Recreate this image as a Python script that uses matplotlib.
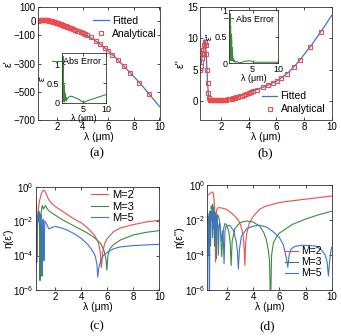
import numpy as np
import matplotlib
matplotlib.use("Agg")
import matplotlib.pyplot as plt
from matplotlib.ticker import FixedLocator, NullLocator, FuncFormatter

plt.rcParams['font.family'] = ['Liberation Sans', 'DejaVu Sans']
plt.rcParams['mathtext.fontset'] = 'custom'
plt.rcParams['mathtext.rm'] = 'Liberation Sans'
plt.rcParams['mathtext.it'] = 'Liberation Sans:italic'

# ---------------- data ----------------
# (a) real permittivity, fitted line
fit_lam = [0.5, 0.7, 0.9, 1.0, 1.2, 1.5, 2.0, 2.5, 3.0, 3.5, 4.0, 4.5, 5.0, 5.5,
           6.0, 6.5, 7.0, 7.5, 8.0, 8.5, 9.0, 9.5, 10.0]
fit_eps_re = [3, 7, 10, 10, 7, 1, -13, -29, -46, -64, -84, -110, -139, -172,
              -210, -252, -298, -345, -393, -442, -495, -550, -605]
# (b) imaginary permittivity, fitted line
fit_lam_b = [0.5, 0.6, 0.7, 0.8, 0.85, 0.9, 0.95, 1.0, 1.05, 1.1, 1.15, 1.2, 1.3,
             1.5, 2.0, 2.5, 3.0, 3.5, 4.0, 4.5, 5.0, 5.5, 6.0, 6.5, 7.0, 7.5,
             8.0, 8.5, 9.0, 9.5, 10.0]
fit_eps_im = [5.0, 6.3, 7.6, 8.9, 9.8, 9.3, 7.5, 5.0, 2.8, 1.2, 0.4, 0.12, 0.05,
              0.03, 0.08, 0.22, 0.48, 0.85, 1.25, 1.7, 2.15, 2.6, 3.1, 3.9, 4.8,
              6.0, 7.4, 8.8, 10.4, 12.0, 13.7]
# analytical samples
ana_lam = [0.5, 0.55, 0.6, 0.65, 0.7, 0.75, 0.8, 0.85, 0.9, 0.95, 1.0, 1.05, 1.1,
           1.15, 1.2, 1.25, 1.3, 1.35, 1.4, 1.45, 1.5, 1.56, 1.62, 1.68, 1.74,
           1.8, 1.87, 1.94, 2.01, 2.08, 2.16, 2.24, 2.32, 2.41, 2.5, 2.59, 2.69,
           2.79, 2.9, 3.01, 3.13, 3.26, 3.39, 3.53, 3.68, 3.84, 4.0, 4.16, 4.31,
           4.62, 5.02, 5.39, 5.73, 6.02, 6.33, 6.78, 7.25, 7.72, 8.43, 9.22]
ana_eps_re = [3, 4, 5, 6, 7, 8, 9, 10, 10, 10, 10, 9, 9, 8, 7, 6, 5, 4, 3, 2, 1,
              0, -2, -3, -5, -7, -9, -11, -13, -15, -18, -20, -23, -26, -29, -32,
              -35, -39, -43, -47, -51, -56, -62, -67, -73, -80, -84, -92, -99,
              -115, -139, -164, -188, -212, -237, -278, -321, -366, -435, -519]
ana_eps_im = [5.0, 5.6, 6.3, 6.9, 7.6, 8.2, 8.9, 9.4, 9.0, 7.5, 5.0, 2.8, 1.2,
              0.4, 0.15, 0.1, 0.08, 0.06, 0.05, 0.05, 0.05, 0.05, 0.05, 0.05,
              0.06, 0.06, 0.07, 0.07, 0.08, 0.1, 0.12, 0.14, 0.17, 0.2, 0.23,
              0.27, 0.31, 0.36, 0.42, 0.48, 0.55, 0.64, 0.74, 0.85, 0.97, 1.1,
              1.25, 1.38, 1.5, 1.8, 2.17, 2.55, 2.9, 3.15, 3.6, 4.35, 5.35, 6.55,
              8.6, 11.1]
# insets: absolute error
err_lam_a = [0.5, 0.55, 0.6, 0.65, 0.7, 0.75, 0.8, 0.85, 0.9, 0.95, 1.0, 1.05,
             1.1, 1.15, 1.2, 1.3, 1.4, 1.5, 1.7, 2.0, 2.5, 3.0, 3.5, 4.0, 4.5,
             5.0, 5.2, 5.5, 6.0, 7.0, 8.0, 9.0, 10.0]
err_a = [0.35, 0.05, 0.3, 0.02, 0.4, 0.1, 1.2, 0.05, 0.5, 0.1, 0.45, 0.02, 0.35,
         0.05, 0.25, 0.05, 0.15, 0.05, 0.1, 0.15, 0.17, 0.15, 0.12, 0.1, 0.06,
         0.02, 0.0, 0.02, 0.05, 0.09, 0.13, 0.17, 0.21]
err_lam_b = [0.5, 0.55, 0.6, 0.65, 0.7, 0.75, 0.8, 0.85, 0.9, 0.95, 1.0, 1.05,
             1.1, 1.15, 1.2, 1.3, 1.4, 1.5, 1.7, 2.0, 2.5, 3.0, 3.5, 4.0, 4.5,
             5.0, 5.5, 6.0, 7.0, 8.0, 9.0, 10.0]
err_b = [0.3, 0.6, 0.1, 0.93, 0.2, 0.7, 0.05, 0.55, 0.1, 0.45, 0.05, 0.3, 0.05,
         0.15, 0.05, 0.08, 0.03, 0.06, 0.02, 0.03, 0.01, 0.02, 0.04, 0.04, 0.05,
         0.03, 0.02, 0.02, 0.02, 0.02, 0.02, 0.02]

# (c) relative error of eps' (log10)
c2_lam = [0.5, 0.55, 0.6, 0.62, 0.65, 0.7, 0.8, 0.9, 1.0, 1.1, 1.2, 1.35, 1.5,
          1.7, 2.0, 2.5, 3.0, 3.5, 4.0, 4.5, 5.0, 5.3, 5.45, 5.55, 5.65, 5.8,
          6.0, 6.5, 7.0, 8.0, 9.0, 10.0]
c2_log = [-0.7, -1.2, -2.5, -4.0, -2.0, -1.3, -0.8, -0.5, -0.3, -0.2, -0.25,
          -0.5, -0.75, -0.95, -1.15, -1.4, -1.65, -1.9, -2.1, -2.4, -2.8, -3.2,
          -3.7, -4.7, -3.8, -3.3, -3.0, -2.6, -2.4, -2.2, -2.05, -1.95]
c3_lam = [0.5, 0.6, 0.7, 0.75, 0.8, 0.83, 0.86, 0.9, 1.0, 1.1, 1.15, 1.25, 1.4,
          1.6, 2.0, 2.5, 3.0, 3.5, 4.0, 4.5, 5.0, 5.5, 5.75, 5.9, 5.97, 6.05,
          6.2, 6.5, 7.0, 8.0, 9.0, 10.0]
c3_log = [-1.3, -1.6, -2.0, -1.5, -2.5, -5.45, -2.3, -1.6, -1.1, -1.3, -1.2,
          -1.1, -1.3, -1.45, -1.65, -1.9, -2.1, -2.3, -2.5, -2.7, -2.95, -3.3,
          -3.7, -4.2, -4.85, -4.0, -3.6, -3.35, -3.1, -2.8, -2.65, -2.55]
c5_lam = [0.5, 0.55, 0.58, 0.62, 0.7, 0.75, 0.8, 0.85, 0.9, 0.95, 0.98, 1.02,
          1.07, 1.1, 1.13, 1.2, 1.3, 1.5, 2.0, 2.5, 3.0, 3.5, 4.0, 4.5, 4.8,
          5.0, 5.1, 5.2, 5.27, 5.35, 5.5, 5.7, 6.0, 6.5, 7.0, 8.0, 9.0, 10.0]
c5_log = [-1.7, -2.5, -4.4, -2.2, -1.8, -1.4, -1.7, -2.2, -1.6, -2.5, -5.2,
          -2.2, -1.9, -2.5, -4.3, -2.0, -2.1, -2.45, -2.3, -2.4, -2.55, -2.75,
          -3.0, -3.35, -3.65, -3.9, -4.1, -4.5, -5.25, -4.7, -4.3, -4.0, -3.8,
          -3.6, -3.5, -3.42, -3.38, -3.35]

# (d) relative error of eps'' (log10)
d2_lam = [0.5, 0.6, 0.7, 0.8, 0.9, 0.95, 1.0, 1.05, 1.1, 1.13, 1.16, 1.2, 1.3,
          1.5, 1.8, 2.0, 2.5, 2.8, 3.0, 3.15, 3.25, 3.32, 3.37, 3.42, 3.5, 3.7,
          4.0, 4.5, 5.0, 6.0, 7.0, 8.0, 9.0, 10.0]
d2_log = [-0.6, -0.55, -0.5, -0.42, -0.4, -0.45, -0.7, -1.3, -2.5, -4.4, -2.0,
          -1.45, -1.3, -1.3, -1.35, -1.4, -1.7, -1.95, -2.2, -2.55, -3.0, -3.7,
          -4.6, -3.4, -2.8, -2.2, -1.8, -1.38, -1.2, -1.0, -0.9, -0.81, -0.72,
          -0.63]
d3_lam = [0.5, 0.55, 0.6, 0.65, 0.7, 0.75, 0.8, 0.85, 0.9, 0.95, 1.0, 1.05,
          1.1, 1.15, 1.2, 1.25, 1.3, 1.4, 1.5, 1.6, 1.7, 1.85, 2.0, 2.15, 2.25,
          2.32, 2.4, 2.6, 3.0, 3.5, 4.0, 4.5, 4.8, 5.0, 5.15, 5.25, 5.33, 5.41,
          5.55, 5.8, 6.0, 7.0, 8.0, 9.0, 10.0]
d3_log = [-2.0, -1.8, -4.0, -1.6, -1.5, -3.5, -1.2, -1.4, -1.1, -1.3, -2.5,
          -1.5, -3.0, -1.6, -4.2, -1.9, -1.7, -1.9, -2.5, -4.1, -2.6, -2.2,
          -2.3, -2.7, -3.3, -4.6, -3.2, -2.5, -2.15, -2.05, -2.12, -2.35, -2.7,
          -3.1, -3.7, -4.3, -7.0, -4.0, -3.3, -2.95, -2.75, -2.25, -1.95, -1.7,
          -1.5]
d5_lam = [0.5, 0.55, 0.6, 0.63, 0.66, 0.7, 0.75, 0.8, 0.85, 0.9, 0.95, 1.0,
          1.05, 1.1, 1.15, 1.2, 1.25, 1.3, 1.35, 1.4, 1.45, 1.5, 1.6, 1.7, 1.78,
          1.85, 1.95, 2.2, 2.5, 2.7, 2.8, 2.87, 2.95, 3.1, 3.5, 4.0, 4.5, 5.0,
          5.5, 6.0, 6.3, 6.55, 6.65, 6.75, 6.9, 7.2, 7.7, 8.3, 8.8, 9.2, 9.5,
          9.65, 9.75, 9.85, 9.95, 10.0]
d5_log = [-1.6, -1.7, -2.5, -4.0, -7.0, -2.2, -1.6, -2.0, -1.5, -3.0, -1.3,
          -1.8, -3.5, -1.6, -1.8, -2.6, -1.9, -2.3, -4.0, -2.3, -2.2, -2.5,
          -3.2, -2.6, -4.5, -2.6, -2.35, -2.3, -2.6, -3.2, -3.8, -4.8, -3.7,
          -2.95, -2.5, -2.35, -2.3, -2.4, -2.65, -3.0, -3.4, -4.2, -4.7, -4.0,
          -3.65, -3.5, -3.45, -3.45, -3.5, -3.7, -4.0, -4.4, -5.2, -4.3, -3.7,
          -3.55]

# ---------------- style ----------------
C_BLUE = '#3f73c6'
C_RED = '#ee4b4f'
C_GREEN = '#3b8a3e'
TICK_FS = 7
LAB_FS = 7.5

fig = plt.figure(figsize=(3.41, 3.36), dpi=100)


def px_axes(left, top, right, bottom):
    W, H = 341.0, 336.0
    return fig.add_axes([left / W, 1 - bottom / H, (right - left) / W,
                         (bottom - top) / H])


def matlab_style(ax, fs=TICK_FS):
    ax.tick_params(direction='in', top=True, right=True, labelsize=fs,
                   length=2, width=0.5, pad=1.5)
    for s in ax.spines.values():
        s.set_linewidth(0.6)
        s.set_color('#333333')


# ---------- (a) ----------
axa = px_axes(37.7, 7, 159.5, 120)
axa.plot(fit_lam, fit_eps_re, color=C_BLUE, lw=0.9, label='Fitted')
axa.plot(ana_lam, ana_eps_re, 's', ms=2.6, mfc='none', mec=C_RED, mew=0.8,
         label='Analytical')
axa.set_xlim(0.5, 10)
axa.set_ylim(-700, 100)
axa.set_xticks([2, 4, 6, 8, 10])
axa.set_yticks([100, 0, -100, -300, -500, -700])
matlab_style(axa)
axa.set_xlabel('λ (μm)', fontsize=LAB_FS, labelpad=0)
axa.set_ylabel("ε'", fontsize=LAB_FS, labelpad=0)
axa.legend(loc='upper right', frameon=False, fontsize=7.5, handlelength=1.5,
           handletextpad=0.3, borderaxespad=0.1, labelspacing=0.3,
           bbox_to_anchor=(1.02, 0.97))

ia = px_axes(61.7, 52.7, 106, 102.7)
ia.plot(err_lam_a, err_a, color=C_GREEN, lw=0.8, label='Abs Error')
ia.set_xlim(0.5, 10)
ia.set_ylim(0, 1.3)
ia.set_xticks([5, 10])
ia.set_yticks([0, 0.5, 1])
ia.set_yticklabels(['0', '0.5', '1'])
matlab_style(ia, fs=6.5)
ia.set_xlabel('λ (μm)', fontsize=6.5, labelpad=0)
ia.set_ylabel("ε'", fontsize=6.5, labelpad=0)
ia.legend(loc='upper right', frameon=False, fontsize=6.5, handlelength=1.0,
          handletextpad=0.3, borderaxespad=0.1)

# ---------- (b) ----------
axb = px_axes(200, 7.3, 331.7, 119.5)
axb.plot(fit_lam_b, fit_eps_im, color=C_BLUE, lw=0.9, label='Fitted')
axb.plot(ana_lam, ana_eps_im, 's', ms=2.6, mfc='none', mec=C_RED, mew=0.8,
         label='Analytical')
axb.set_xlim(0.5, 10)
axb.set_ylim(-3, 15)
axb.set_xticks([2, 4, 6, 8, 10])
axb.set_yticks([0, 5, 10, 15])
matlab_style(axb)
axb.set_xlabel('λ (μm)', fontsize=LAB_FS, labelpad=0)
axb.set_ylabel("ε''", fontsize=LAB_FS, labelpad=1)
axb.legend(loc='lower right', frameon=False, fontsize=7.5, handlelength=1.5,
           handletextpad=0.3, borderaxespad=0.1, labelspacing=0.3,
           bbox_to_anchor=(0.99, 0.0))

ib = px_axes(229.3, 10, 278.3, 63.3)
ib.plot(err_lam_b, err_b, color=C_GREEN, lw=0.8, label='Abs Error')
ib.set_xlim(0.5, 10)
ib.set_ylim(0, 1)
ib.set_xticks([5, 10])
ib.set_yticks([0, 0.5, 1])
ib.set_yticklabels(['0', '0.5', '1'])
matlab_style(ib, fs=6.5)
ib.set_xlabel('λ (μm)', fontsize=6.5, labelpad=0)
ib.set_ylabel("ε''", fontsize=6.5, labelpad=1)
ib.legend(loc='upper right', frameon=False, fontsize=6.5, handlelength=1.0,
          handletextpad=0.3, borderaxespad=0.1)


def log_fmt(v, pos):
    e = int(round(np.log10(v)))
    return r'$\mathregular{10^{%d}}$' % e


def setup_log(ax):
    ax.set_yscale('log')
    ax.set_ylim(1e-6, 1)
    ax.set_xlim(0.5, 10)
    ax.set_xticks([2, 4, 6, 8, 10])
    ax.yaxis.set_major_locator(FixedLocator([1e-6, 1e-4, 1e-2, 1]))
    ax.yaxis.set_minor_locator(NullLocator())
    ax.yaxis.set_major_formatter(FuncFormatter(log_fmt))
    matlab_style(ax)
    ax.set_xlabel('λ (μm)', fontsize=LAB_FS, labelpad=0)


# ---------- (c) ----------
axc = px_axes(35.7, 186.7, 159.3, 290)
axc.plot(c2_lam, 10 ** np.array(c2_log), color=C_RED, lw=0.8, label='M=2')
axc.plot(c3_lam, 10 ** np.array(c3_log), color=C_GREEN, lw=0.8, label='M=3')
axc.plot(c5_lam, 10 ** np.array(c5_log), color=C_BLUE, lw=0.8, label='M=5')
setup_log(axc)
axc.set_ylabel("η(ε')", fontsize=LAB_FS, labelpad=0)
axc.legend(loc='upper left', frameon=False, fontsize=8, handlelength=1.5,
           handletextpad=0.4, borderaxespad=0.0, labelspacing=0.15,
           borderpad=0.2, bbox_to_anchor=(0.43, 0.99))

# ---------- (d) ----------
axd = px_axes(207.3, 185, 331.7, 290)
axd.plot(d2_lam, 10 ** np.array(d2_log), color=C_RED, lw=0.8, label='M=2')
axd.plot(d3_lam, 10 ** np.array(d3_log), color=C_GREEN, lw=0.8, label='M=3')
axd.plot(d5_lam, 10 ** np.array(d5_log), color=C_BLUE, lw=0.8, label='M=5')
setup_log(axd)
axd.set_ylabel("η(ε'')", fontsize=LAB_FS, labelpad=0)
axd.legend(loc='lower right', frameon=False, fontsize=7.5, handlelength=1.2,
           handletextpad=0.3, borderaxespad=0.1, labelspacing=0.1,
           bbox_to_anchor=(0.96, 0.06))

# ---------- captions ----------
for x, y, t in [(96.7, 153, '(a)'), (265, 153, '(b)'),
                (96.7, 326.5, '(c)'), (266.7, 326.5, '(d)')]:
    fig.text(x / 341, 1 - y / 336, t, ha='center', va='center',
             family=['Liberation Serif', 'DejaVu Serif'], fontsize=9.5)

fig.savefig('out.png', dpi=100)
